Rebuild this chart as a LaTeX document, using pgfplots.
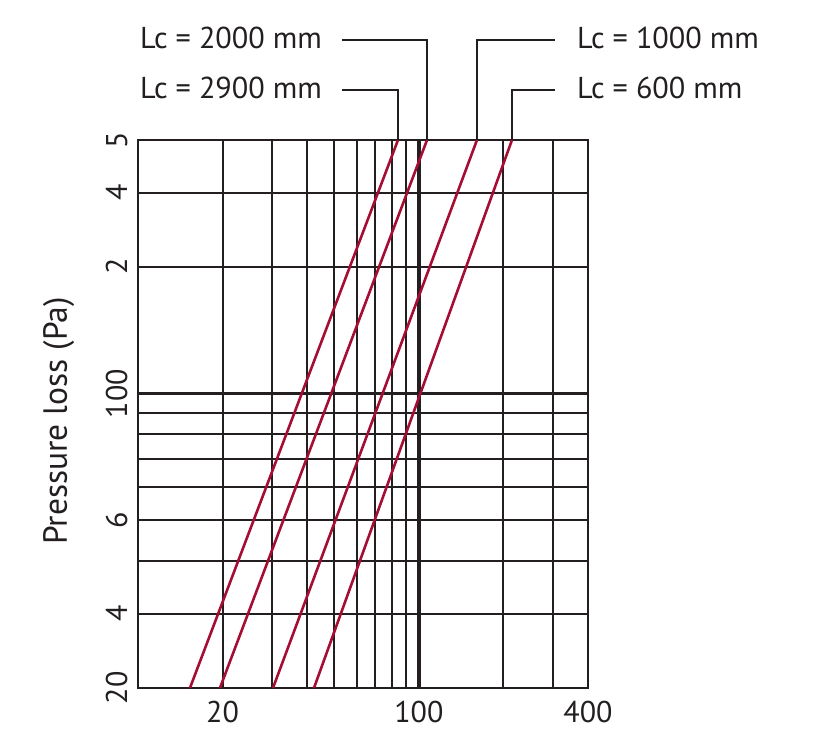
\documentclass[border=0pt]{standalone}
\usepackage{pgfplots}
\pgfplotsset{compat=1.18}
\usepackage{fontspec}
\setmainfont{PT Sans}
\definecolor{gridk}{HTML}{231F20}
\definecolor{lcred}{HTML}{A50D32}
\begin{document}
\begin{tikzpicture}
\begin{axis}[name=ax,
  xmode=log, ymode=log,
  scale only axis, width=450pt, height=548pt,
  xmin=10, xmax=400, ymin=20, ymax=400,
  xtick={20,30,40,50,60,70,80,90,100,200,300,400},
  xticklabels={20,,,,,,,,100,,,400},
  ytick={20,30,40,50,60,70,80,90,100,200,300,400},
  yticklabels={20,4,,6,,,,,100,2,4,5},
  extra x ticks={100}, extra x tick labels={},
  extra y ticks={100}, extra y tick labels={},
  extra tick style={major grid style={line width=3.4pt, draw=gridk}},
  minor tick num=0,
  major tick length=0pt,
  grid=major,
  major grid style={line width=2pt, draw=gridk},
  axis line style={line width=2.8pt, draw=gridk},
  /pgf/number format/assume math mode=true,
  tick label style={font=\fontsize{30}{31}\selectfont, text=gridk},
  xticklabel style={anchor=base, inner sep=0pt},
  xticklabel shift=34.7pt,
  yticklabel style={rotate=90, anchor=base, inner sep=0pt},
  yticklabel shift=11pt,
  ylabel={Pressure loss (Pa)},
  ylabel style={at={(axis description cs:-0.158,0.487)}, anchor=base, inner sep=0pt, font=\fontsize{33.5}{35}\selectfont, text=gridk},
  clip=false,
]
\addplot[lcred, line width=2.6pt] coordinates {(15.31,20) (84.26,400)};
\addplot[lcred, line width=2.6pt] coordinates {(19.58,20) (106.9,400)};
\addplot[lcred, line width=2.6pt] coordinates {(30.24,20) (161.0,400)};
\addplot[lcred, line width=2.6pt] coordinates {(42.32,20) (214.5,400)};
\draw[line width=2pt, gridk] (axis cs:53.25,690.9) -| (axis cs:106.9,400);
\draw[line width=2pt, gridk] (axis cs:53.25,525.7) -| (axis cs:84.26,400);
\draw[line width=2pt, gridk] (axis cs:305.1,690.9) -| (axis cs:161.0,400);
\draw[line width=2pt, gridk] (axis cs:305.1,525.7) -| (axis cs:214.5,400);
\node[anchor=base west, inner sep=0pt, font=\fontsize{30.2}{31}\selectfont, text=gridk] at (axis cs:10.165,661.3) {Lc = 2000 mm};
\node[anchor=base west, inner sep=0pt, font=\fontsize{30.2}{31}\selectfont, text=gridk] at (axis cs:10.165,500.5) {Lc = 2900 mm};
\node[anchor=base west, inner sep=0pt, font=\fontsize{30.2}{31}\selectfont, text=gridk] at (axis cs:365.5,661.3) {Lc = 1000 mm};
\node[anchor=base west, inner sep=0pt, font=\fontsize{30.2}{31}\selectfont, text=gridk] at (axis cs:365.5,500.5) {Lc = 600 mm};
\end{axis}
\pgfresetboundingbox
\path[use as bounding box] ([xshift=-138pt,yshift=-47pt]ax.south west) rectangle ([xshift=252pt,yshift=140pt]ax.north east);
\end{tikzpicture}
\end{document}
